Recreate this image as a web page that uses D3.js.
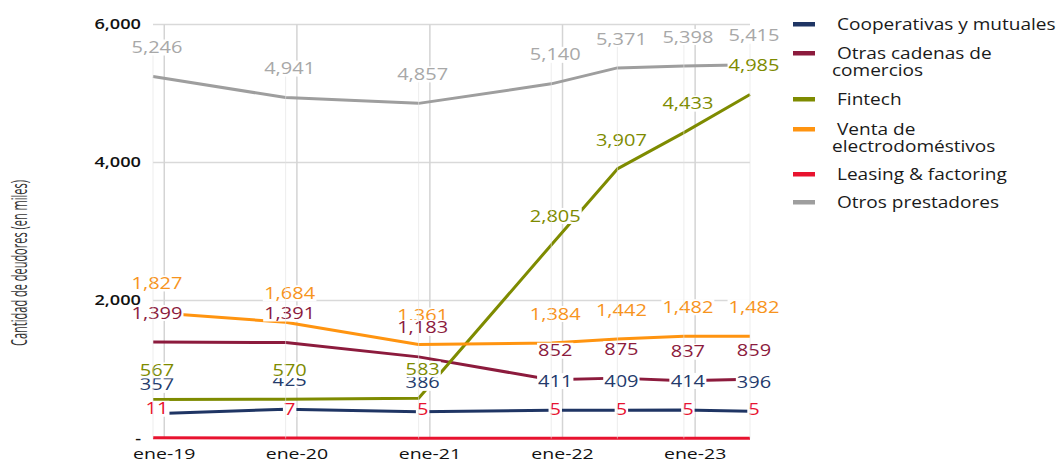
<!DOCTYPE html>
<html><head><meta charset="utf-8">
<script src="https://cdn.jsdelivr.net/npm/d3@7/dist/d3.min.js"></script>
<style>
html,body{margin:0;padding:0;background:#fff;}
svg{display:block;font-family:"Open Sans",sans-serif;}
</style></head>
<body><svg id="chart" width="1062" height="459"></svg>
<script>
// ---- data ----
const dates = ["2018-12-01","2019-12-01","2020-12-01","2021-12-01","2022-06-01","2022-12-01","2023-06-01"];
const cooperativas = [357,425,386,411,409,414,396];
const otrasCadenas = [1399,1391,1183,852,875,837,859];
const fintech = [567,570,583,2805,3907,4433,4985];
const electro = [1827,1684,1361,1384,1442,1482,1482];
const leasing = [11,7,5,5,5,5,5];
const otrosPrestadores = [5246,4941,4857,5140,5371,5398,5415];
const xTickDates = ["2019-01-01","2020-01-01","2021-01-01","2022-01-01","2023-01-01"];
const xTickLabels = ["ene-19","ene-20","ene-21","ene-22","ene-23"];
const yTicks = [0,2000,4000,6000];
const seriesNames = ["Cooperativas y mutuales","Otras cadenas de comercios","Fintech","Venta de electrodoméstivos","Leasing & factoring","Otros prestadores"];
const legendLines = [["Cooperativas y mutuales"],["Otras cadenas de","comercios"],["Fintech"],["Venta de","electrodoméstivos"],["Leasing & factoring"],["Otros prestadores"]];
const seriesColors = ["#1f3564","#8c1b3d","#7e8b00","#ff9410","#e8132f","#9e9e9e"];
const labelColors = ["#243a6b","#8c1b3d","#7e8b00","#f7941d","#e8132f","#a8a8a8"];
const yTitle = "Cantidad de deudores (en miles)";

const parse = d3.timeParse("%Y-%m-%d");
const X = dates.map(parse);
const series = [cooperativas, otrasCadenas, fintech, electro, leasing, otrosPrestadores];

const svg = d3.select("#chart");
const x = d3.scaleTime().domain([X[0], X[X.length-1]]).range([153, 750]);
const y = d3.scaleLinear().domain([0, 6000]).range([438.5, 24.5]);

function stext(g, tx, ty, str, opts){
  const gg = g.append("g").attr("transform", `translate(${tx},${ty})${opts.rot?` rotate(${opts.rot})`:""} scale(${opts.sx||1},1)`);
  const t = gg.append("text").text(str)
    .attr("text-anchor", opts.anchor||"middle")
    .attr("dy", "0.35em")
    .attr("font-size", opts.size)
    .attr("font-weight", opts.weight||null)
    .attr("fill", opts.fill)
    .attr("font-family", opts.family||null);
  return {gg, t};
}

// gridlines
const grid = svg.append("g");
grid.selectAll("line.h").data(yTicks.filter(d=>d>0)).join("line")
  .attr("x1", 153).attr("x2", 750).attr("y1", d=>y(d)).attr("y2", d=>y(d))
  .attr("stroke", "#d9d9d9").attr("stroke-width", 1.5);
grid.selectAll("line.v").data(xTickDates.map(parse)).join("line")
  .attr("x1", d=>x(d)).attr("x2", d=>x(d)).attr("y1", y(6000)).attr("y2", y(0))
  .attr("stroke", "#d4d4d4").attr("stroke-width", 1.5);

// y tick labels
const yAx = svg.append("g");
yTicks.forEach(v=>{
  stext(yAx, 141, y(v), v===0?"-":d3.format(",")(v), {anchor:"end", size:14, sx:1.3, fill:"#111", weight:600});
});
// x tick labels
const xAx = svg.append("g");
xTickDates.forEach((d,i)=>{
  stext(xAx, x(parse(d)), 454, xTickLabels[i], {size:15, sx:1.3, fill:"#111", weight:500});
});
// y title (fit to the reference length)
const yt = stext(svg, 20, 263, yTitle, {rot:-90, size:21, sx:1, fill:"#333", family:"'Liberation Sans Narrow','Open Sans',sans-serif"});
const ytw = yt.t.node().getComputedTextLength();
yt.gg.attr("transform", `translate(20,263) rotate(-90) scale(${166/ytw},1)`);

// lines
const line = d3.line().x((d,i)=>x(X[i])).y(d=>y(d));
const linesG = svg.append("g");
series.forEach((s,k)=>{
  linesG.append("path").datum(s).attr("d", line)
    .attr("fill","none").attr("stroke", seriesColors[k]).attr("stroke-width", 3)
    .attr("stroke-linejoin","round");
});

// labels
const labG = svg.append("g");
const order = [0,3,1,2,4,5];
order.forEach(k=>{
  series[k].forEach((v,i)=>{
    const g = labG.append("g");
    const r = g.append("rect").attr("fill","#fff");
    const o = stext(g, x(X[i])+4, y(v)-29, d3.format(",")(v), {size:16, sx:1.25, fill:labelColors[k]});
    const bb = o.t.node().getBBox();
    const w = bb.width*1.25;
    r.attr("x", x(X[i])+4 - w/2 - 1).attr("y", y(v)-29 - 8).attr("width", w+2).attr("height", 16);
  });
});
// faint drop lines
const dropG = svg.append("g");
X.forEach((d,i)=>{
  dropG.append("line").attr("x1", x(d)).attr("x2", x(d))
    .attr("y1", y(otrosPrestadores[i])-21).attr("y2", y(0))
    .attr("stroke", "#e3e3e3").attr("stroke-width", 1).attr("opacity", 0.6);
});

// legend
const leg = svg.append("g");
const rows = [[24],[53,70],[99],[129,146],[174],[202]];
legendLines.forEach((ls,k)=>{
  leg.append("rect").attr("x", 793).attr("y", rows[k][0]-2).attr("width", 22).attr("height", 4.5).attr("fill", seriesColors[k]);
  ls.forEach((t,j)=>{
    stext(leg, j===0?837:832, rows[k][j], t, {anchor:"start", size:16, sx:1.19, fill:"#1a1a1a"});
  });
});
</script></body></html>
